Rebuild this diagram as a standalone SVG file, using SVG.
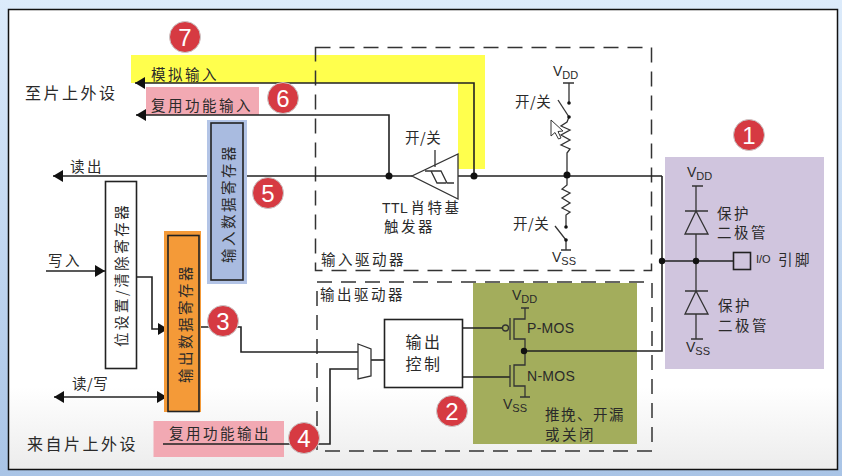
<svg xmlns="http://www.w3.org/2000/svg" width="842" height="476" viewBox="0 0 842 476">
  <style>
    text { font-family: "Noto Sans CJK SC", "Liberation Sans", sans-serif; fill: #2a2a2a; }
    .t13 { font-size: 14.5px; letter-spacing: 2.5px; }
    .sw { font-size: 14.5px; letter-spacing: 0.5px; }
    .t15 { font-size: 16px; letter-spacing: 2.5px; }
    .lat { font-family: "Liberation Sans", sans-serif; font-size: 14px; }
    .sub { font-size: 11px; }
    .w { fill: none; stroke: #222; stroke-width: 1.6; }
    .thin { fill: none; stroke: #333; stroke-width: 1.3; }
    .dash { fill: none; stroke: #333; stroke-width: 1.5; stroke-dasharray: 15 9; }
    .dot { fill: #111; }
    .box { stroke: #222; stroke-width: 1.6; }
    .badge circle { fill: #d63a42; stroke: #c9c9c9; stroke-width: 1; }
    .badge text { font-family: "Liberation Sans", sans-serif; font-size: 24px; fill: #fff; text-anchor: middle; }
    .ctr { text-anchor: middle; }
  </style>
  <defs>
    <linearGradient id="bg" x1="0" y1="0" x2="0" y2="1">
      <stop offset="0" stop-color="#dcebfb"/>
      <stop offset="1" stop-color="#a9c4e6"/>
    </linearGradient>
    <linearGradient id="page" x1="0" y1="0" x2="0" y2="1">
      <stop offset="0" stop-color="#ffffff"/>
      <stop offset="0.82" stop-color="#ffffff"/>
      <stop offset="1" stop-color="#ececec"/>
    </linearGradient>
    <marker id="arr" markerUnits="userSpaceOnUse" markerWidth="11" markerHeight="12" refX="10" refY="6" orient="auto-start-reverse">
      <path d="M0 0L10 6L0 12Z" fill="#111"/>
    </marker>
  </defs>

  <rect width="842" height="476" fill="url(#bg)"/>
  <rect x="8.500" y="9.500" width="829" height="460" fill="url(#page)" stroke="#111" stroke-width="1.500"/>

  <!-- colour bands behind the circuit -->
  <path d="M131 55H485V169H458V83H131Z" fill="#ffff4d"/>
  <rect x="146" y="87" width="113" height="28" fill="#f2a9b3"/>
  <rect x="153.500" y="421" width="130.500" height="36" fill="#f2a9b3"/>
  <rect x="473" y="283" width="164" height="161" fill="#a3ad5c"/>
  <rect x="665" y="157" width="159" height="212" fill="#d0c5de"/>

  <g id="connectors">
    <rect class="dash" x="315.500" y="47.500" width="336" height="223"/>
    <rect class="dash" x="317" y="282" width="335" height="169"/>
    <path class="w" d="M474 176V83H135" marker-end="url(#arr)"/>
    <path class="w" d="M389 176V115H136" marker-end="url(#arr)"/>
    <path class="w" d="M662 176H458M412 176H53" marker-end="url(#arr)"/>
    <path class="w" d="M662 176V351H525"/>
    <path class="w" d="M662 261H733"/>
    <path class="w" d="M46 271H105" marker-end="url(#arr)"/>
    <path class="w" d="M137 277H152V329H168" marker-end="url(#arr)"/>
    <path class="w" d="M54 397H167" marker-start="url(#arr)" marker-end="url(#arr)"/>
    <path class="w" d="M199 327H241V352H358"/>
    <path class="w" d="M163 444H330V369H358"/>
    <path class="w" d="M371 360H384"/>
    <path class="w" d="M463 328H502M463 377H510"/>
  </g>

  <g id="badge-7" class="badge"><circle cx="185" cy="37" r="15.500"/><text x="185" y="45.500">7</text></g>
  <g id="badge-6" class="badge"><circle cx="283" cy="98" r="15.500"/><text x="283" y="106.500">6</text></g>
  <g id="badge-5" class="badge"><circle cx="268" cy="193" r="15.500"/><text x="268" y="201.500">5</text></g>
  <g id="badge-3" class="badge"><circle cx="223" cy="321" r="15.500"/><text x="223" y="329.500">3</text></g>
  <g id="badge-4" class="badge"><circle cx="304" cy="438" r="15.500"/><text x="304" y="446.500">4</text></g>
  <g id="badge-2" class="badge"><circle cx="452" cy="411" r="15.500"/><text x="452" y="419.500">2</text></g>
  <g id="badge-1" class="badge"><circle cx="749" cy="135" r="15.500"/><text x="749" y="143.500">1</text></g>

  <g id="labels">
    <text class="t15" x="25" y="99">至片上外设</text>
    <text class="t15" x="27" y="450">来自片上外设</text>
    <text class="t13" x="151" y="80" style="letter-spacing:2.500px">模拟输入</text>
    <text class="t13" x="151" y="111">复用功能输入</text>
    <text class="t13" x="70" y="172">读出</text>
    <text class="t13" x="48" y="266">写入</text>
    <text class="sw" x="72" y="389">读/写</text>
    <text class="t13" x="169" y="439">复用功能输出</text>
  </g>

  <g id="input-data-register">
    <rect x="207" y="120" width="40" height="164" fill="#b3c4e6"/>
    <rect class="box" x="211" y="123" width="32" height="157" fill="#a9bbe0" stroke="#1c2c50"/>
    <text class="t13" transform="translate(233.500 263) rotate(-90)">输入数据寄存器</text>
  </g>
  <g id="bit-set-clear-register">
    <rect class="box" x="105.500" y="181.500" width="31" height="187" fill="#fff"/>
    <text class="t13" transform="translate(126.500 347) rotate(-90)">位设置/清除寄存器</text>
  </g>
  <g id="output-data-register">
    <rect x="164" y="231" width="37" height="181" fill="#f49a38"/>
    <rect class="box" x="168" y="235.500" width="31" height="176" fill="#f49a38"/>
    <text class="t13" transform="translate(190.500 383) rotate(-90)">输出数据寄存器</text>
  </g>

  <g id="schmitt-trigger">
    <path class="thin" d="M458 154V199L412 176Z" fill="#fff"/>
    <path class="thin" d="M435 150V167M429 171H441L447 183H454M425 171H431L437 183H446" stroke-width="1.200"/>
    <text class="sw" x="405" y="143">开/关</text>
    <text class="sw" x="382" y="213"><tspan class="lat" font-size="13">TTL</tspan><tspan dx="2" style="letter-spacing:2.500px">肖特基</tspan></text>
    <text class="t13" x="384" y="232">触发器</text>
    <circle class="dot" cx="389" cy="176" r="3.500"/>
    <circle class="dot" cx="474" cy="176" r="3.500"/>
  </g>

  <g id="pull-resistors">
    <path class="thin" d="M569 83V103M563 83H574"/>
    <path class="thin" d="M558 100L569 117"/>
    <path class="thin" d="M569 117L567 122L561 126L570 130L561 135L570 140L561 145L570 149L567 153V176"/>
    <path class="thin" d="M567 176V185L562 189L570 193L562 198L570 203L562 208L570 212L566 215V227"/>
    <path class="thin" d="M555 226L566 240V250M561 250H571"/>
    <circle class="dot" cx="569" cy="103" r="1.800"/>
    <circle class="dot" cx="569" cy="117" r="1.800"/>
    <circle class="dot" cx="566" cy="227" r="1.800"/>
    <circle class="dot" cx="566" cy="240" r="1.800"/>
    <circle class="dot" cx="567" cy="175" r="3.500"/>
    <text class="lat" x="553" y="76">V<tspan class="sub" dy="3">DD</tspan></text>
    <text class="lat" x="552" y="262">V<tspan class="sub" dy="3">SS</tspan></text>
    <text class="sw" x="515" y="107">开/关</text>
    <text class="sw" x="513" y="229">开/关</text>
    <text class="t13" x="321" y="265">输入驱动器</text>
    <!-- pointer resting on the upper resistor -->
    <path d="M551 120V136L555 132.500L558.500 139L561 138L558 131.500L563 131Z" fill="#fff" stroke="#333" stroke-width="1"/>
  </g>

  <g id="output-driver">
    <text class="t13" x="320" y="300">输出驱动器</text>
    <path class="thin" d="M358 344L371 349V376L358 379Z" fill="#fff"/>
    <rect class="box" x="384.500" y="319.500" width="78" height="68" fill="#fff"/>
    <text class="t15 ctr" x="424" y="348">输出</text>
    <text class="t15 ctr" x="424" y="370">控制</text>
  </g>

  <g id="mos-pair">
    <path class="thin" d="M525 308V319H514V339H525V351V365H514V386H525V397M520 397H530M521 308H529"/>
    <path class="thin" d="M510 318V340M510 365V387"/>
    <circle class="thin" cx="505.500" cy="328" r="3" fill="#a3ad5c"/>
    <circle class="dot" cx="524" cy="351" r="3.200"/>
    <text class="lat" x="512" y="300">V<tspan class="sub" dy="3">DD</tspan></text>
    <text class="lat" x="503" y="409">V<tspan class="sub" dy="3">SS</tspan></text>
    <text class="lat" x="527" y="333" style="letter-spacing:.3px">P-MOS</text>
    <text class="lat" x="527" y="381" style="letter-spacing:.3px">N-MOS</text>
    <text class="t13" x="545" y="420" style="letter-spacing:1.500px">推挽、开漏</text>
    <text class="t13" x="545" y="440">或关闭</text>
  </g>

  <g id="io-protection">
    <path class="thin" d="M696 186V211M692 186H703M685 211H708M696 211L685 234H708Z M696 234V291M685 291H708M696 291L685 314H708Z M696 314V339M691 339H703"/>
    <circle class="dot" cx="662" cy="261" r="3.200"/>
    <circle class="dot" cx="696" cy="261" r="3.200"/>
    <rect class="box" x="733.500" y="252.500" width="17" height="17" fill="none"/>
    <text class="lat" x="687" y="177">V<tspan class="sub" dy="3">DD</tspan></text>
    <text class="lat" x="686" y="352">V<tspan class="sub" dy="3">SS</tspan></text>
    <text class="t13" x="717" y="219">保护</text>
    <text class="t13" x="717" y="238">二极管</text>
    <text class="t13" x="718" y="311">保护</text>
    <text class="t13" x="718" y="331">二极管</text>
    <text x="756" y="263" font-size="11" style="font-family:'Liberation Sans',sans-serif">I/O</text>
    <text class="t13" x="778" y="265">引脚</text>
  </g>
</svg>
